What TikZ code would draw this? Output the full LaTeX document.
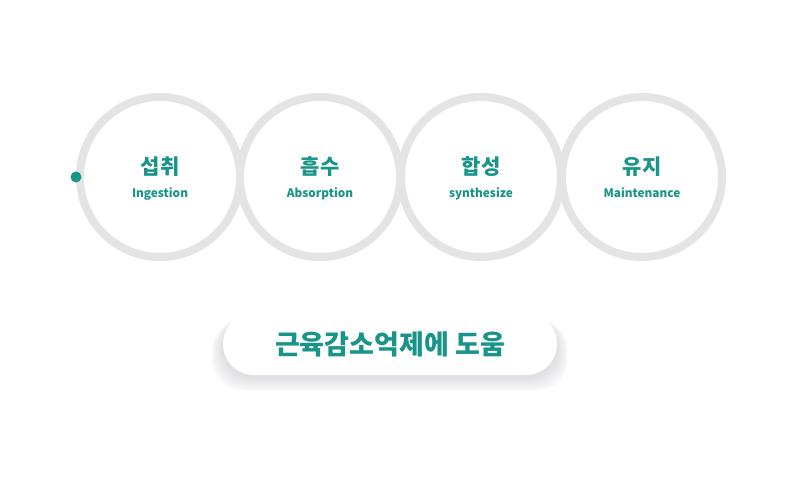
\documentclass[tikz,border=0pt]{standalone}
\usepackage{fontspec}
\setmainfont{Noto Sans CJK KR}
\usetikzlibrary{positioning}
\definecolor{tl}{RGB}{24,148,137}
\definecolor{rg}{RGB}{228,228,231}
\definecolor{sh}{RGB}{120,120,125}

\begin{document}
\begin{tikzpicture}[
    x=1pt, y=-1pt,
    r/.style={
        circle, draw=rg, line width=8pt,
        minimum size=160pt, inner sep=0pt
    },
    k/.style={
        text=tl, font=\bfseries\fontsize{21}{21}\selectfont
    },
    e/.style={
        text=tl, anchor=base, inner sep=0pt,
        font=\bfseries\fontsize{11.8}{11.8}\selectfont
    },
    p/.style={
        fill=white, rounded corners=31pt,
        minimum width=334pt, minimum height=62pt, inner sep=0pt,
        text=tl, font=\bfseries\fontsize{27}{27}\selectfont
    }
]
    \useasboundingbox [fill=white] (0,0) rectangle (800,491);

    \node [r] (r1) at (160, 177) {};
    \node [r] (r2) at (320, 177) {};
    \node [r] (r3) at (481, 177) {};
    \node [r] (r4) at (642, 177) {};

    \node [k] (k1) at (160, 167) {섭취};
    \node [k] (k2) at (320, 167) {흡수};
    \node [k] (k3) at (481, 167) {합성};
    \node [k] (k4) at (642, 167) {유지};

    \node [e] (e1) at (160, 197) {Ingestion};
    \node [e] (e2) at (320, 197) {Absorption};
    \node [e] (e3) at (481, 197) {synthesize};
    \node [e] (e4) at (642, 197) {Maintenance};

    \fill [tl] (r1.west) circle (5.5);

    % soft shadow under the pill
    \foreach \i in {1,...,14}
        \fill [sh, opacity=0.016, rounded corners=31pt]
            (223-\i*0.8, 317+\i*0.2) rectangle (557+\i*0.8, 377+\i*1.0);

    \node [p] (g) at (390, 344) {근육감소억제에 도움};
\end{tikzpicture}
\end{document}
